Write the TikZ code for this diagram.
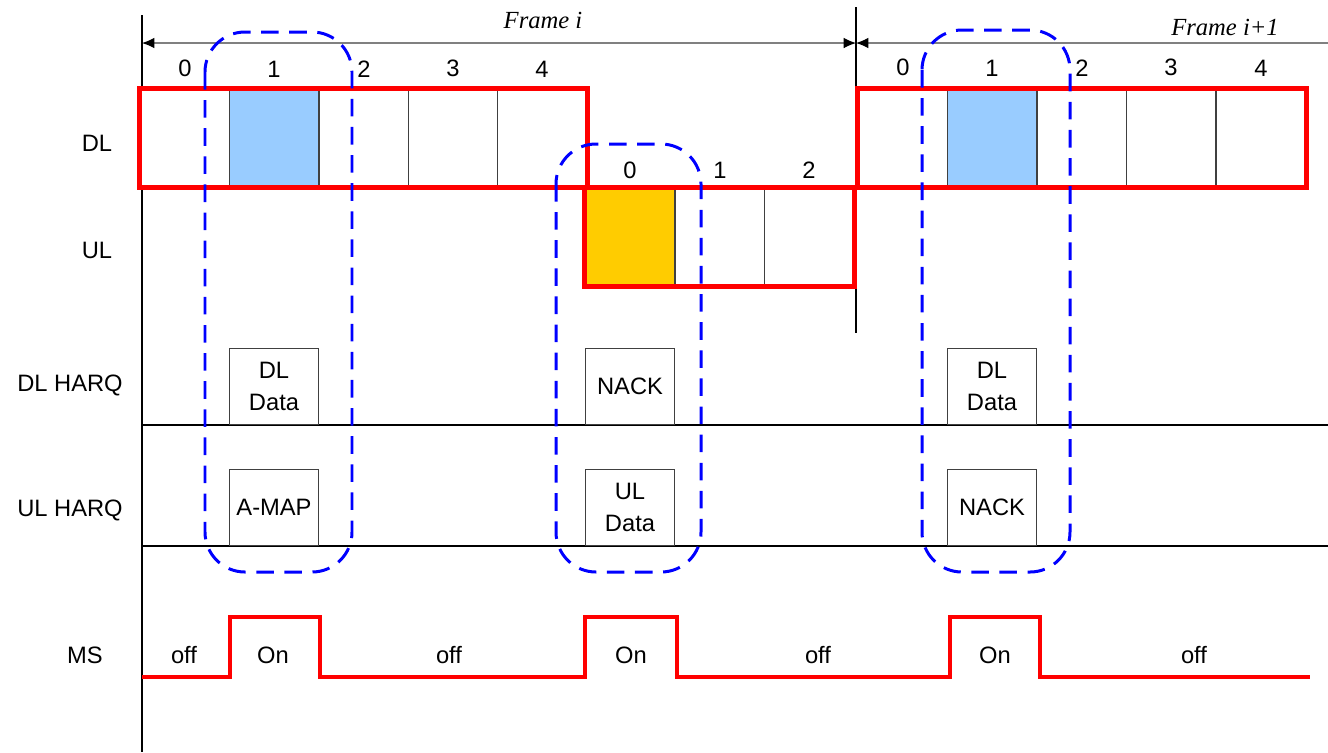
\documentclass[tikz,border=0pt]{standalone}
\usepackage{fontspec}
\setmainfont{Liberation Sans}
\newfontfamily\framefont{Liberation Serif}
\usetikzlibrary{positioning,arrows.meta}

\definecolor{dlblue}{HTML}{99CCFF}
\definecolor{ulyellow}{HTML}{FFCC00}

\begin{document}
\begin{tikzpicture}[
  x=0.02cm, y=-0.02cm,
  >={Latex[length=7pt,width=6pt,color=black]},
  every node/.style={font=\fontsize{13.5}{18}\selectfont},
  slot/.style={draw=black!75, line width=0.5pt, minimum width=1.79cm, minimum height=1.96cm, inner sep=0pt},
  frameline/.style={draw=red, line width=2.8pt, line join=miter},
  msgbox/.style={draw=black!75, line width=0.5pt, fill=white, minimum width=1.78cm, minimum height=1.52cm, align=center, inner sep=0pt},
  group/.style={draw=blue, line width=1.7pt, dash pattern=on 10pt off 6pt, rounded corners=0.8cm},
  msline/.style={draw=red, line width=1.8pt},
  num/.style={inner sep=0pt},
  framelab/.style={font=\fontsize{14}{16}\selectfont\framefont\itshape, inner sep=0pt}
]
\useasboundingbox (0,0) rectangle (1328,752);

% time axis and frame border
\draw[line width=0.8pt] (142,15) -- (142,752);
\draw[line width=0.8pt] (856,7) -- (856,333);
\coordinate (fstart) at (142,43);
\coordinate (fmid) at (856,43);
\coordinate (fend) at (1328,43);
\draw[gray, line width=0.6pt, <->] (fstart) -- (fmid);
\draw[gray, line width=0.6pt, <-] (fmid) -- (fend);
\node[framelab] (framei) at (543,20) {Frame i};
\node[framelab] (frameii) at (1225,27) {Frame i+1};

% HARQ row separators
\coordinate (hq1) at (142,425);
\coordinate (hq2) at (142,546);
\draw[line width=0.6pt] (hq1) -- (1328,425);
\draw[line width=0.6pt] (hq2) -- (1328,546);

% DL subframes, frame i
\foreach \i/\x/\c in {0/185/white,1/274/dlblue,2/364/white,3/453/white,4/542/white}{
  \node[slot, fill=\c] (dla\i) at (\x,138) {};
  \node[num, above=0.22cm of dla\i] {\i};
}
% UL subframes, frame i
\foreach \i/\x/\c in {0/630/ulyellow,1/720/white,2/809/white}{
  \node[slot, fill=\c] (ul\i) at (\x,237) {};
  \node[num, above=0.18cm of ul\i] {\i};
}
% DL subframes, frame i+1
\foreach \i/\x/\c in {0/903/white,1/992/dlblue,2/1082/white,3/1171/white,4/1261/white}{
  \node[slot, fill=\c] (dlb\i) at (\x,138) {};
  \node[num, above=0.24cm of dlb\i] {\i};
}
\draw[frameline] (dla0.north west) rectangle (dla4.south east);
\draw[frameline] (ul0.north west) rectangle (ul2.south east);
\draw[frameline] (ul2.north east) -- (dlb0.south west);
\draw[frameline] (dlb0.north west) rectangle (dlb4.south east);

% row labels
\node (dllab) at (97,143) {DL};
\node (ullab) at (97,250) {UL};
\node (dlhlab) at (70,385) {DL HARQ};
\node (ulhlab) at (70,510) {UL HARQ};
\node (mslab) at (85,655) {MS};

% HARQ messages
\node[msgbox, anchor=south] (dldat1) at (dla1 |- hq1) {DL\\Data};
\node[msgbox, anchor=south] (amap) at (dla1 |- hq2) {A-MAP};
\node[msgbox, anchor=south] (nack1) at (ul0 |- hq1) {NACK};
\node[msgbox, anchor=south] (uldat) at (ul0 |- hq2) {UL\\Data};
\node[msgbox, anchor=south] (dldat2) at (dlb1 |- hq1) {DL\\Data};
\node[msgbox, anchor=south] (nack2) at (dlb1 |- hq2) {NACK};

% MS power state
\draw[msline] (142,677) -- (230,677) -- (230,617) -- (320,617) -- (320,677)
  -- (585,677) -- (585,617) -- (677,617) -- (677,677) -- (950,677)
  -- (950,617) -- (1040,617) -- (1040,677) -- (1310,677);
\foreach \x/\t in {184/off,273/On,449/off,631/On,818/off,995/On,1194/off}
  \node at (\x,655) {\t};

% HARQ groups
\draw[group] (205,32) rectangle (352,572);
\draw[group] (556,144) rectangle (701,572);
\draw[group] (922,30) rectangle (1070,572);
\end{tikzpicture}
\end{document}
